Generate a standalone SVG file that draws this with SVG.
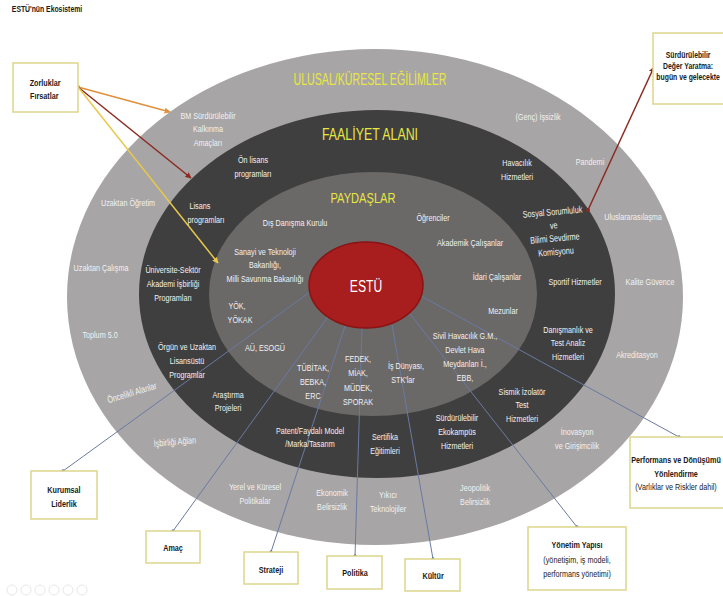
<svg xmlns="http://www.w3.org/2000/svg" width="723" height="596" viewBox="0 0 723 596">
<defs>
<style>
.l{font-family:"Liberation Sans",Arial,sans-serif;font-size:9.5px;fill:#f2f2f2;text-anchor:middle;transform-box:fill-box;transform-origin:center;transform:scaleX(.76)}
.b{font-family:"Liberation Sans",Arial,sans-serif;font-size:9.5px;fill:#1a1a1a;font-weight:bold;text-anchor:middle;transform-box:fill-box;transform-origin:center;transform:scaleX(.76)}
.n{font-weight:normal}
.h{font-family:"Liberation Sans",Arial,sans-serif;font-size:16px;fill:#e9e742;text-anchor:middle}
.box{fill:#fff;stroke:#ddd58c;stroke-width:1.5}
.blue{stroke:#6a7aa2;stroke-width:1;fill:none;marker-end:url(#dotB)}
</style>
<marker id="dotB" viewBox="0 0 6 6" refX="3" refY="3" markerWidth="4" markerHeight="4" markerUnits="userSpaceOnUse"><path d="M3 0L6 3L3 6L0 3Z" fill="#4d6394"/></marker>
<marker id="arO" viewBox="0 0 10 10" refX="9" refY="5" markerWidth="6" markerHeight="6" orient="auto" markerUnits="userSpaceOnUse"><path d="M0 0L10 5L0 10Z" fill="#e08f3c"/></marker>
<marker id="arR" viewBox="0 0 10 10" refX="9" refY="5" markerWidth="6" markerHeight="6" orient="auto" markerUnits="userSpaceOnUse"><path d="M0 0L10 5L0 10Z" fill="#8c2a22"/></marker>
<marker id="arY" viewBox="0 0 10 10" refX="9" refY="5" markerWidth="6" markerHeight="6" orient="auto" markerUnits="userSpaceOnUse"><path d="M0 0L10 5L0 10Z" fill="#e8c94a"/></marker>
<marker id="dO" viewBox="0 0 6 6" refX="3" refY="3" markerWidth="4" markerHeight="4" markerUnits="userSpaceOnUse"><circle cx="3" cy="3" r="3" fill="#e08f3c"/></marker>
<marker id="dR" viewBox="0 0 6 6" refX="3" refY="3" markerWidth="4" markerHeight="4" markerUnits="userSpaceOnUse"><circle cx="3" cy="3" r="3" fill="#8c2a22"/></marker>
</defs>
<rect width="723" height="596" fill="#fff"/>
<text class="b" x="47" y="12" style="font-size:9px">ESTÜ'nün Ekosistemi</text>

<g id="rings">
<ellipse id="ulusal" cx="375" cy="297" rx="308" ry="248" fill="#a7a5a5"/>
<ellipse id="faaliyet" cx="377" cy="294" rx="238" ry="184" fill="#403f3f"/>
<ellipse id="paydaslar" cx="373" cy="294" rx="164" ry="122" fill="#6b6868"/>
</g>

<g id="connectors">
<line class="blue" x1="310" y1="292" x2="63" y2="471"/>
<line class="blue" x1="330" y1="314" x2="173" y2="531"/>
<line class="blue" x1="345" y1="326" x2="271" y2="552"/>
<line class="blue" x1="362" y1="328" x2="355" y2="556"/>
<line class="blue" x1="392" y1="325" x2="433" y2="559"/>
<line class="blue" x1="410" y1="314" x2="577" y2="527"/>
<line class="blue" x1="421" y1="296" x2="679" y2="437"/>
<line x1="78" y1="87" x2="170" y2="112" stroke="#e08f3c" stroke-width="1.5" marker-start="url(#dO)" marker-end="url(#arO)"/>
<line x1="78" y1="87" x2="191" y2="178" stroke="#8c2a22" stroke-width="1.5" marker-end="url(#arR)"/>
<line x1="78" y1="87" x2="218" y2="263" stroke="#e8c94a" stroke-width="1.5" marker-end="url(#arY)"/>
<line x1="588" y1="210" x2="654" y2="67" stroke="#8c2a22" stroke-width="1.5" marker-start="url(#dR)" marker-end="url(#arR)"/>
</g>

<g id="estu">
<ellipse cx="366" cy="285" rx="57" ry="43" fill="#a81d1d" stroke="#8a1414" stroke-width="1.5"/>
<text class="l" x="366" y="292" style="font-size:16px;fill:#fff">ESTÜ</text>
</g>

<g id="titles">
<text class="h" x="370" y="85" textLength="153" lengthAdjust="spacingAndGlyphs">ULUSAL/KÜRESEL EĞİLİMLER</text>
<text class="h" x="370" y="140" textLength="96" lengthAdjust="spacingAndGlyphs">FAALİYET ALANI</text>
<text class="h" x="363" y="203" textLength="65" lengthAdjust="spacingAndGlyphs" style="font-size:15px">PAYDAŞLAR</text>
</g>

<g id="outer-labels">
<text class="l" x="208" y="119">BM Sürdürülebilir<tspan x="208" dy="13.5">Kalkınma</tspan><tspan x="208" dy="13.5">Amaçları</tspan></text>
<text class="l" x="538" y="120">(Genç) İşsizlik</text>
<text class="l" x="590" y="165">Pandemi</text>
<text class="l" x="128" y="206">Uzaktan Öğretim</text>
<text class="l" x="101" y="271">Uzaktan Çalışma</text>
<text class="l" x="100" y="338">Toplum 5.0</text>
<g transform="rotate(-17 132 393)"><text class="l" x="132" y="396">Öncelikli Alanlar</text></g>
<g transform="rotate(-5 175 442)"><text class="l" x="175" y="445">İşbirliği Ağları</text></g>
<text class="l" x="255" y="490">Yerel ve Küresel<tspan x="255" dy="14">Politikalar</tspan></text>
<text class="l" x="332" y="496">Ekonomik<tspan x="332" dy="14">Belirsizlik</tspan></text>
<text class="l" x="388" y="498">Yıkıcı<tspan x="388" dy="14">Teknolojiler</tspan></text>
<text class="l" x="475" y="491">Jeopolitik<tspan x="475" dy="14">Belirsizlik</tspan></text>
<text class="l" x="577" y="435">İnovasyon<tspan x="577" dy="14">ve Girişimcilik</tspan></text>
<text class="l" x="637" y="358">Akreditasyon</text>
<text class="l" x="650" y="285">Kalite Güvence</text>
<text class="l" x="633" y="220">Uluslararasılaşma</text>
</g>

<g id="activity-labels">
<text class="l" x="253" y="163">Ön lisans<tspan x="253" dy="14">programları</tspan></text>
<text class="l" x="204" y="209"><tspan x="198">Lisans</tspan><tspan x="206" dy="14">programları</tspan></text>
<text class="l" x="173" y="273">Üniversite-Sektör<tspan x="173" dy="14">Akademi İşbirliği</tspan><tspan x="173" dy="14">Programları</tspan></text>
<text class="l" x="187" y="350">Örgün ve Uzaktan<tspan x="187" dy="14">Lisansüstü</tspan><tspan x="187" dy="14">Programlar</tspan></text>
<text class="l" x="228" y="398">Araştırma<tspan x="228" dy="13.5">Projeleri</tspan></text>
<text class="l" x="310" y="434">Patent/Faydalı Model<tspan x="310" dy="13.5">/Marka/Tasarım</tspan></text>
<text class="l" x="385" y="440">Sertifika<tspan x="385" dy="14">Eğitimleri</tspan></text>
<text class="l" x="457" y="421">Sürdürülebilir<tspan x="457" dy="14">Ekokampüs</tspan><tspan x="457" dy="14">Hizmetleri</tspan></text>
<text class="l" x="522" y="395">Sismik İzolatör<tspan x="522" dy="13.5">Test</tspan><tspan x="522" dy="13.5">Hizmetleri</tspan></text>
<text class="l" x="568" y="333">Danışmanlık ve<tspan x="568" dy="13.5">Test Analiz</tspan><tspan x="568" dy="13.5">Hizmetleri</tspan></text>
<text class="l" x="575" y="285">Sportif  Hizmetler</text>
<g transform="rotate(-5 555 230)"><text class="l" x="554" y="215">Sosyal Sorumluluk<tspan x="554" dy="13.5">ve</tspan><tspan x="554" dy="13">Bilimi Sevdirme</tspan><tspan x="554" dy="13.5">Komisyonu</tspan></text></g>
<text class="l" x="517" y="166">Havacılık<tspan x="517" dy="14">Hizmetleri</tspan></text>
</g>

<g id="stakeholder-labels">
<text class="l" x="295" y="226">Dış Danışma Kurulu</text>
<text class="l" x="265" y="255">Sanayi ve Teknoloji<tspan x="265" dy="13.5">Bakanlığı,</tspan><tspan x="265" dy="13.5">Milli Savunma Bakanlığı</tspan></text>
<text class="l" x="239" y="309"><tspan x="236">YÖK,</tspan><tspan x="240" dy="14">YÖKAK</tspan></text>
<text class="l" x="265" y="351">AÜ, ESOGÜ</text>
<text class="l" x="313" y="371">TÜBİTAK,<tspan x="313" dy="14">BEBKA,</tspan><tspan x="313" dy="14">ERC</tspan></text>
<text class="l" x="358" y="362">FEDEK,<tspan x="358" dy="14.3">MİAK,</tspan><tspan x="358" dy="14.3">MÜDEK,</tspan><tspan x="358" dy="14.3">SPORAK</tspan></text>
<text class="l" x="406" y="369">İş Dünyası,<tspan x="402" dy="14">STK'lar</tspan></text>
<text class="l" x="465" y="339">Sivil Havacılık G.M.,<tspan x="465" dy="14">Devlet Hava</tspan><tspan x="465" dy="14">Meydanları İ.,</tspan><tspan x="465" dy="14">EBB,</tspan></text>
<text class="l" x="503" y="314">Mezunlar</text>
<text class="l" x="497" y="280">İdari Çalışanlar</text>
<text class="l" x="470" y="246">Akademik Çalışanlar</text>
<text class="l" x="433" y="221">Öğrenciler</text>
</g>

<g id="box-zorluklar"><rect class="box" x="13" y="63" width="65" height="49"/><text class="b" x="45" y="86">Zorluklar<tspan x="44" dy="13">Fırsatlar</tspan></text></g>
<g id="box-deger"><rect class="box" x="653" y="33" width="75" height="71"/><text class="b" x="688" y="58" style="font-size:9px">Sürdürülebilir<tspan x="688" dy="11">Değer Yaratma:</tspan><tspan x="688" dy="11">bugün ve gelecekte</tspan></text></g>
<g id="box-kurumsal"><rect class="box" x="31" y="471" width="66" height="48"/><text class="b" x="64" y="493">Kurumsal<tspan x="64" dy="14">Liderlik</tspan></text></g>
<g id="box-amac"><rect class="box" x="146" y="531" width="54" height="32"/><text class="b" x="173" y="551">Amaç</text></g>
<g id="box-strateji"><rect class="box" x="244" y="552" width="54" height="32"/><text class="b" x="271" y="573">Strateji</text></g>
<g id="box-politika"><rect class="box" x="327" y="556" width="55" height="33"/><text class="b" x="355" y="576">Politika</text></g>
<g id="box-kultur"><rect class="box" x="405" y="559" width="55" height="32"/><text class="b" x="433" y="579">Kültür</text></g>
<g id="box-yonetim"><rect class="box" x="528" y="527" width="98" height="63"/><text class="b" x="577" y="548">Yönetim Yapısı<tspan class="n" x="577" dy="15">(yönetişim, iş modeli,</tspan><tspan class="n" x="577" dy="14">performans yönetimi)</tspan></text></g>
<g id="box-performans"><rect class="box" x="630" y="437" width="98" height="71"/><text class="b" x="676" y="463">Performans ve Dönüşümü<tspan x="676" dy="14">Yönlendirme</tspan><tspan class="n" x="676" dy="13">(Varlıklar ve Riskler dahil)</tspan></text></g>

<g id="nav" fill="none" stroke="#e8e8e8" stroke-width="1">
<circle cx="12" cy="590" r="5"/><circle cx="26" cy="590" r="5"/><circle cx="40" cy="590" r="5"/><circle cx="54" cy="590" r="5"/><circle cx="68" cy="590" r="5"/><circle cx="82" cy="590" r="5"/>
</g>
</svg>
